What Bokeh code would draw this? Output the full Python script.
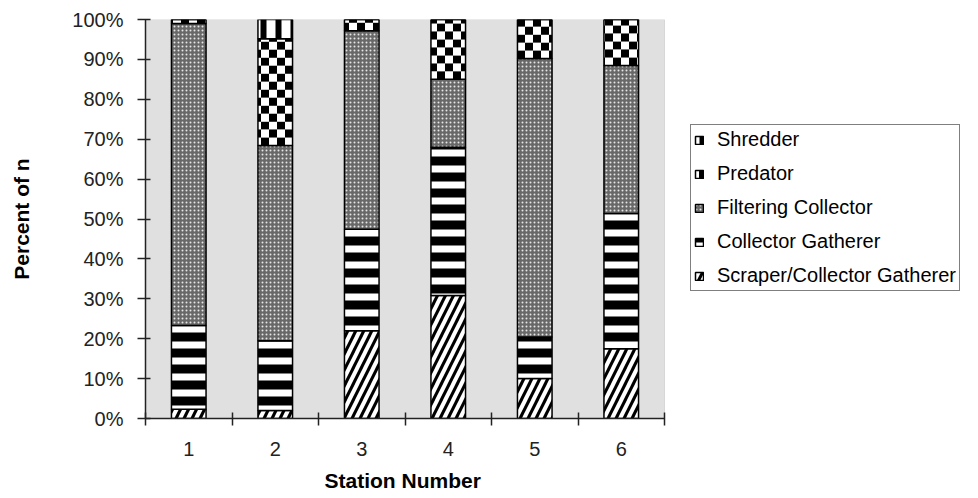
import numpy as np
from bokeh.plotting import figure
from bokeh.models import (Range1d, FixedTicker, PrintfTickFormatter, Legend, LegendItem,
                          BoxAnnotation, Title)
from bokeh.embed import file_html
from bokeh.resources import INLINE

# ---- data (percent of n) ----
stations = [1, 2, 3, 4, 5, 6]
station_labels = ["1", "2", "3", "4", "5", "6"]
scraper = [2.3, 2.0, 22.0, 30.8, 10.0, 17.5]
collector_gatherer = [21.0, 17.5, 25.4, 37.2, 10.4, 33.9]
filtering_collector = [75.7, 48.9, 49.8, 17.0, 69.8, 37.1]
predator = [1.0, 26.8, 2.8, 15.0, 9.8, 11.5]
shredder = [0.0, 4.8, 0.0, 0.0, 0.0, 0.0]
series_names = ["Scraper/Collector Gatherer", "Collector Gatherer",
                "Filtering Collector", "Predator", "Shredder"]
y_ticks = [0, 10, 20, 30, 40, 50, 60, 70, 80, 90, 100]
x_title = "Station Number"
y_title = "Percent of n"

FONT = "Liberation Sans"
BAR_W = 0.4
CHECK = 2.0  # checker row height in percent units

# layout: plot area is 519 px wide; frame extends to the right edge so the legend can sit there
LEFT = 145
AREA_W = 519
FRAME_W = 978 - LEFT
X0, X1 = 0.5, 6.5
x_end = X0 + (X1 - X0) * FRAME_W / AREA_W

p = figure(frame_width=FRAME_W, frame_height=399, output_backend="svg", toolbar_location=None,
           x_range=Range1d(X0, x_end), y_range=Range1d(0, 100),
           min_border_left=LEFT, min_border_right=0, min_border_top=19, min_border_bottom=0)
p.border_fill_color = "white"
p.background_fill_color = "white"
p.outline_line_color = None
p.xgrid.visible = False
p.ygrid.visible = False

area = BoxAnnotation(left=X0, right=X1, bottom=0, top=100, fill_color="#e0e0e0", fill_alpha=1.0,
                     line_color="#a0a0a0", line_width=1, level="underlay")
p.add_layout(area)

values = [scraper, collector_gatherer, filtering_collector, predator, shredder]
styles = [
    dict(fill_color="black", hatch_pattern="/", hatch_color="white", hatch_scale=16, hatch_weight=4),
    dict(fill_color="black", hatch_pattern="-", hatch_color="white", hatch_scale=16, hatch_weight=7),
    dict(fill_color="#686868", hatch_pattern=".", hatch_color="#e6e6e6", hatch_scale=4, hatch_weight=1.5),
    None,
    dict(fill_color="white", hatch_pattern="|", hatch_color="black", hatch_scale=15, hatch_weight=6),
]
cum = np.cumsum(np.array(values), axis=0)
legend_renderers = []
for i, (name, st) in enumerate(zip(series_names, styles)):
    bottom = cum[i - 1] if i > 0 else np.zeros(len(stations))
    top = cum[i]
    if st is None:
        # checkerboard: alternating rows of inverse vertical stripes
        ax, ab, at, bx, bb, bt = [], [], [], [], [], []
        for x, b, t in zip(stations, bottom, top):
            edges = np.arange(b, t, CHECK)
            for k, e in enumerate(edges):
                e2 = min(e + CHECK, t)
                if k % 2 == 0:
                    ax.append(x); ab.append(e); at.append(e2)
                else:
                    bx.append(x); bb.append(e); bt.append(e2)
        ra = p.vbar(x=ax, bottom=ab, top=at, width=BAR_W, line_color=None, fill_color="white",
                    hatch_pattern="|", hatch_color="black", hatch_scale=16, hatch_weight=8)
        p.vbar(x=bx, bottom=bb, top=bt, width=BAR_W, line_color=None, fill_color="black",
               hatch_pattern="|", hatch_color="white", hatch_scale=16, hatch_weight=8)
        ro = p.vbar(x=stations, bottom=bottom, top=top, width=BAR_W, fill_color=None,
                    line_color="black", line_width=1.5)
        legend_renderers.append((name, [ra, ro]))
    else:
        r = p.vbar(x=stations, bottom=bottom, top=top, width=BAR_W,
                   line_color="black", line_width=1.5, **st)
        legend_renderers.append((name, [r]))

# axes
xa = p.xaxis[0]
xa.bounds = (X0, X1)
xa.ticker = FixedTicker(ticks=stations, minor_ticks=[X0 + k for k in range(7)])
xa.major_label_overrides = {s: l for s, l in zip(stations, station_labels)}
xa.major_tick_line_color = None
xa.minor_tick_line_color = "#222222"
xa.minor_tick_line_width = 1.5
xa.minor_tick_in = 6
xa.minor_tick_out = 7
xa.major_label_text_font = FONT
xa.major_label_text_font_size = "20px"
xa.major_label_text_color = "#222222"
xa.major_label_standoff = 16
xa.axis_line_color = "#222222"
xa.axis_line_width = 1.5

# x-axis title centred under the plot area (not the full frame)
xt = Title(text=x_title, align="left", offset=179, standoff=16,
           text_font=FONT, text_font_style="bold", text_font_size="21px", text_color="black")
p.add_layout(xt, "below")

ya = p.yaxis[0]
ya.ticker = FixedTicker(ticks=y_ticks, minor_ticks=[])
ya.formatter = PrintfTickFormatter(format="%d%%")
ya.major_tick_in = 5
ya.major_tick_out = 8
ya.major_tick_line_color = "#222222"
ya.major_tick_line_width = 1.5
ya.axis_label = y_title
ya.axis_label_text_font = FONT
ya.axis_label_text_font_style = "bold"
ya.axis_label_text_font_size = "21px"
ya.axis_label_text_color = "black"
ya.axis_label_standoff = 36
ya.major_label_text_font = FONT
ya.major_label_text_font_size = "20px"
ya.major_label_text_color = "#222222"
ya.major_label_standoff = 14
ya.axis_line_color = "#222222"
ya.axis_line_width = 1.5

items = [LegendItem(label=name, renderers=rs) for name, rs in reversed(legend_renderers)]
legend = Legend(items=items, location=(690 - LEFT, 418 - 291), orientation="vertical",
                glyph_width=10, glyph_height=10, label_standoff=13, spacing=11,
                padding=3, margin=0, label_text_font=FONT, label_text_font_size="20px",
                label_text_color="black", border_line_color="black", border_line_width=1,
                background_fill_color="white", background_fill_alpha=1.0, label_height=20)
p.add_layout(legend, "center")

open("out.html", "w").write(file_html(p, INLINE))
